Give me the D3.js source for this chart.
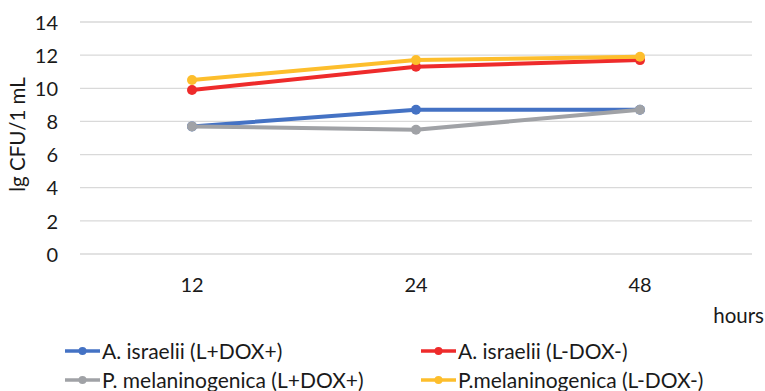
<!DOCTYPE html>
<html><head><meta charset="utf-8">
<script src="https://cdn.jsdelivr.net/npm/d3@7"></script>
<style>body{margin:0;background:#fff}svg{display:block}text{font-family:Lato,"Open Sans",sans-serif;fill:#1a1a1a}</style>
</head><body><svg id="c" width="765" height="391"></svg>
<script>
const categories = ["12", "24", "48"];
const seriesNames = ["A. israelii (L+DOX+)", "A. israelii (L-DOX-)", "P. melaninogenica (L+DOX+)", "P.melaninogenica (L-DOX-)"];
const israeliiLDOXplus = [7.7, 8.7, 8.7];
const israeliiLDOXminus = [9.9, 11.3, 11.7];
const melaninogenicaLDOXplus = [7.7, 7.5, 8.7];
const melaninogenicaLDOXminus = [10.5, 11.7, 11.9];
const yTicks = [0, 2, 4, 6, 8, 10, 12, 14];
const colors = ["#4472C4", "#EE2B2B", "#A0A2A6", "#FDBE2C"];

const series = [
  {name: seriesNames[0], values: israeliiLDOXplus, color: colors[0]},
  {name: seriesNames[1], values: israeliiLDOXminus, color: colors[1]},
  {name: seriesNames[2], values: melaninogenicaLDOXplus, color: colors[2]},
  {name: seriesNames[3], values: melaninogenicaLDOXminus, color: colors[3]}
];

const svg = d3.select("#c");
const x = d3.scaleBand().domain(categories).range([80, 752]);
const cx = c => x(c) + x.bandwidth() / 2;
const y = d3.scaleLinear().domain([0, 14]).range([254, 22]);
const fs = "21px";

svg.append("g").selectAll("line").data(yTicks).join("line")
  .attr("x1", 80).attr("x2", 752)
  .attr("y1", d => y(d)).attr("y2", d => y(d))
  .attr("stroke", "#D9D9D9").attr("stroke-width", 1.3);

const yAxis = d3.axisLeft(y).tickValues(yTicks).tickSize(0).tickPadding(0);
const gy = svg.append("g").attr("transform", "translate(58,0)").call(yAxis);
gy.select(".domain").remove();
gy.selectAll("text").style("font-size", "20px").style("font-family", "Lato,sans-serif").attr("fill", "#1a1a1a").attr("dy", "0.36em");

const xAxis = d3.axisBottom(x).tickSize(0).tickPadding(0);
const gx = svg.append("g").attr("transform", "translate(0,292)").call(xAxis);
gx.select(".domain").remove();
gx.selectAll("text").style("font-size", "20px").style("font-family", "Lato,sans-serif").attr("fill", "#1a1a1a").attr("dy", "0");

svg.append("text").attr("transform", "translate(25,134.5) rotate(-90)")
  .attr("text-anchor", "middle").style("font-size", "20.5px").text("lg CFU/1 mL");
svg.append("text").attr("x", 764).attr("y", 323).attr("text-anchor", "end")
  .style("font-size", "20.5px").text("hours");

const line = d3.line().x((d, i) => cx(categories[i])).y(d => y(d));
series.forEach(s => {
  const g = svg.append("g");
  g.append("path").datum(s.values).attr("d", line).attr("fill", "none")
    .attr("stroke", s.color).attr("stroke-width", 4).attr("stroke-linejoin", "round");
  g.selectAll("circle").data(s.values).join("circle")
    .attr("cx", (d, i) => cx(categories[i])).attr("cy", d => y(d)).attr("r", 5)
    .attr("fill", s.color);
});

const legPos = [[65, 351], [421, 351], [65, 380], [421, 380]];
series.forEach((s, i) => {
  const [lx, ly] = legPos[i];
  const g = svg.append("g").attr("transform", `translate(${lx},${ly})`);
  g.append("line").attr("x1", 0).attr("x2", 35).attr("stroke", s.color).attr("stroke-width", 3.5);
  g.append("circle").attr("cx", 17.5).attr("r", 4).attr("fill", s.color);
  g.append("text").attr("x", 37).attr("dy", "0.36em").style("font-size", fs).text(s.name);
});
</script></body></html>
